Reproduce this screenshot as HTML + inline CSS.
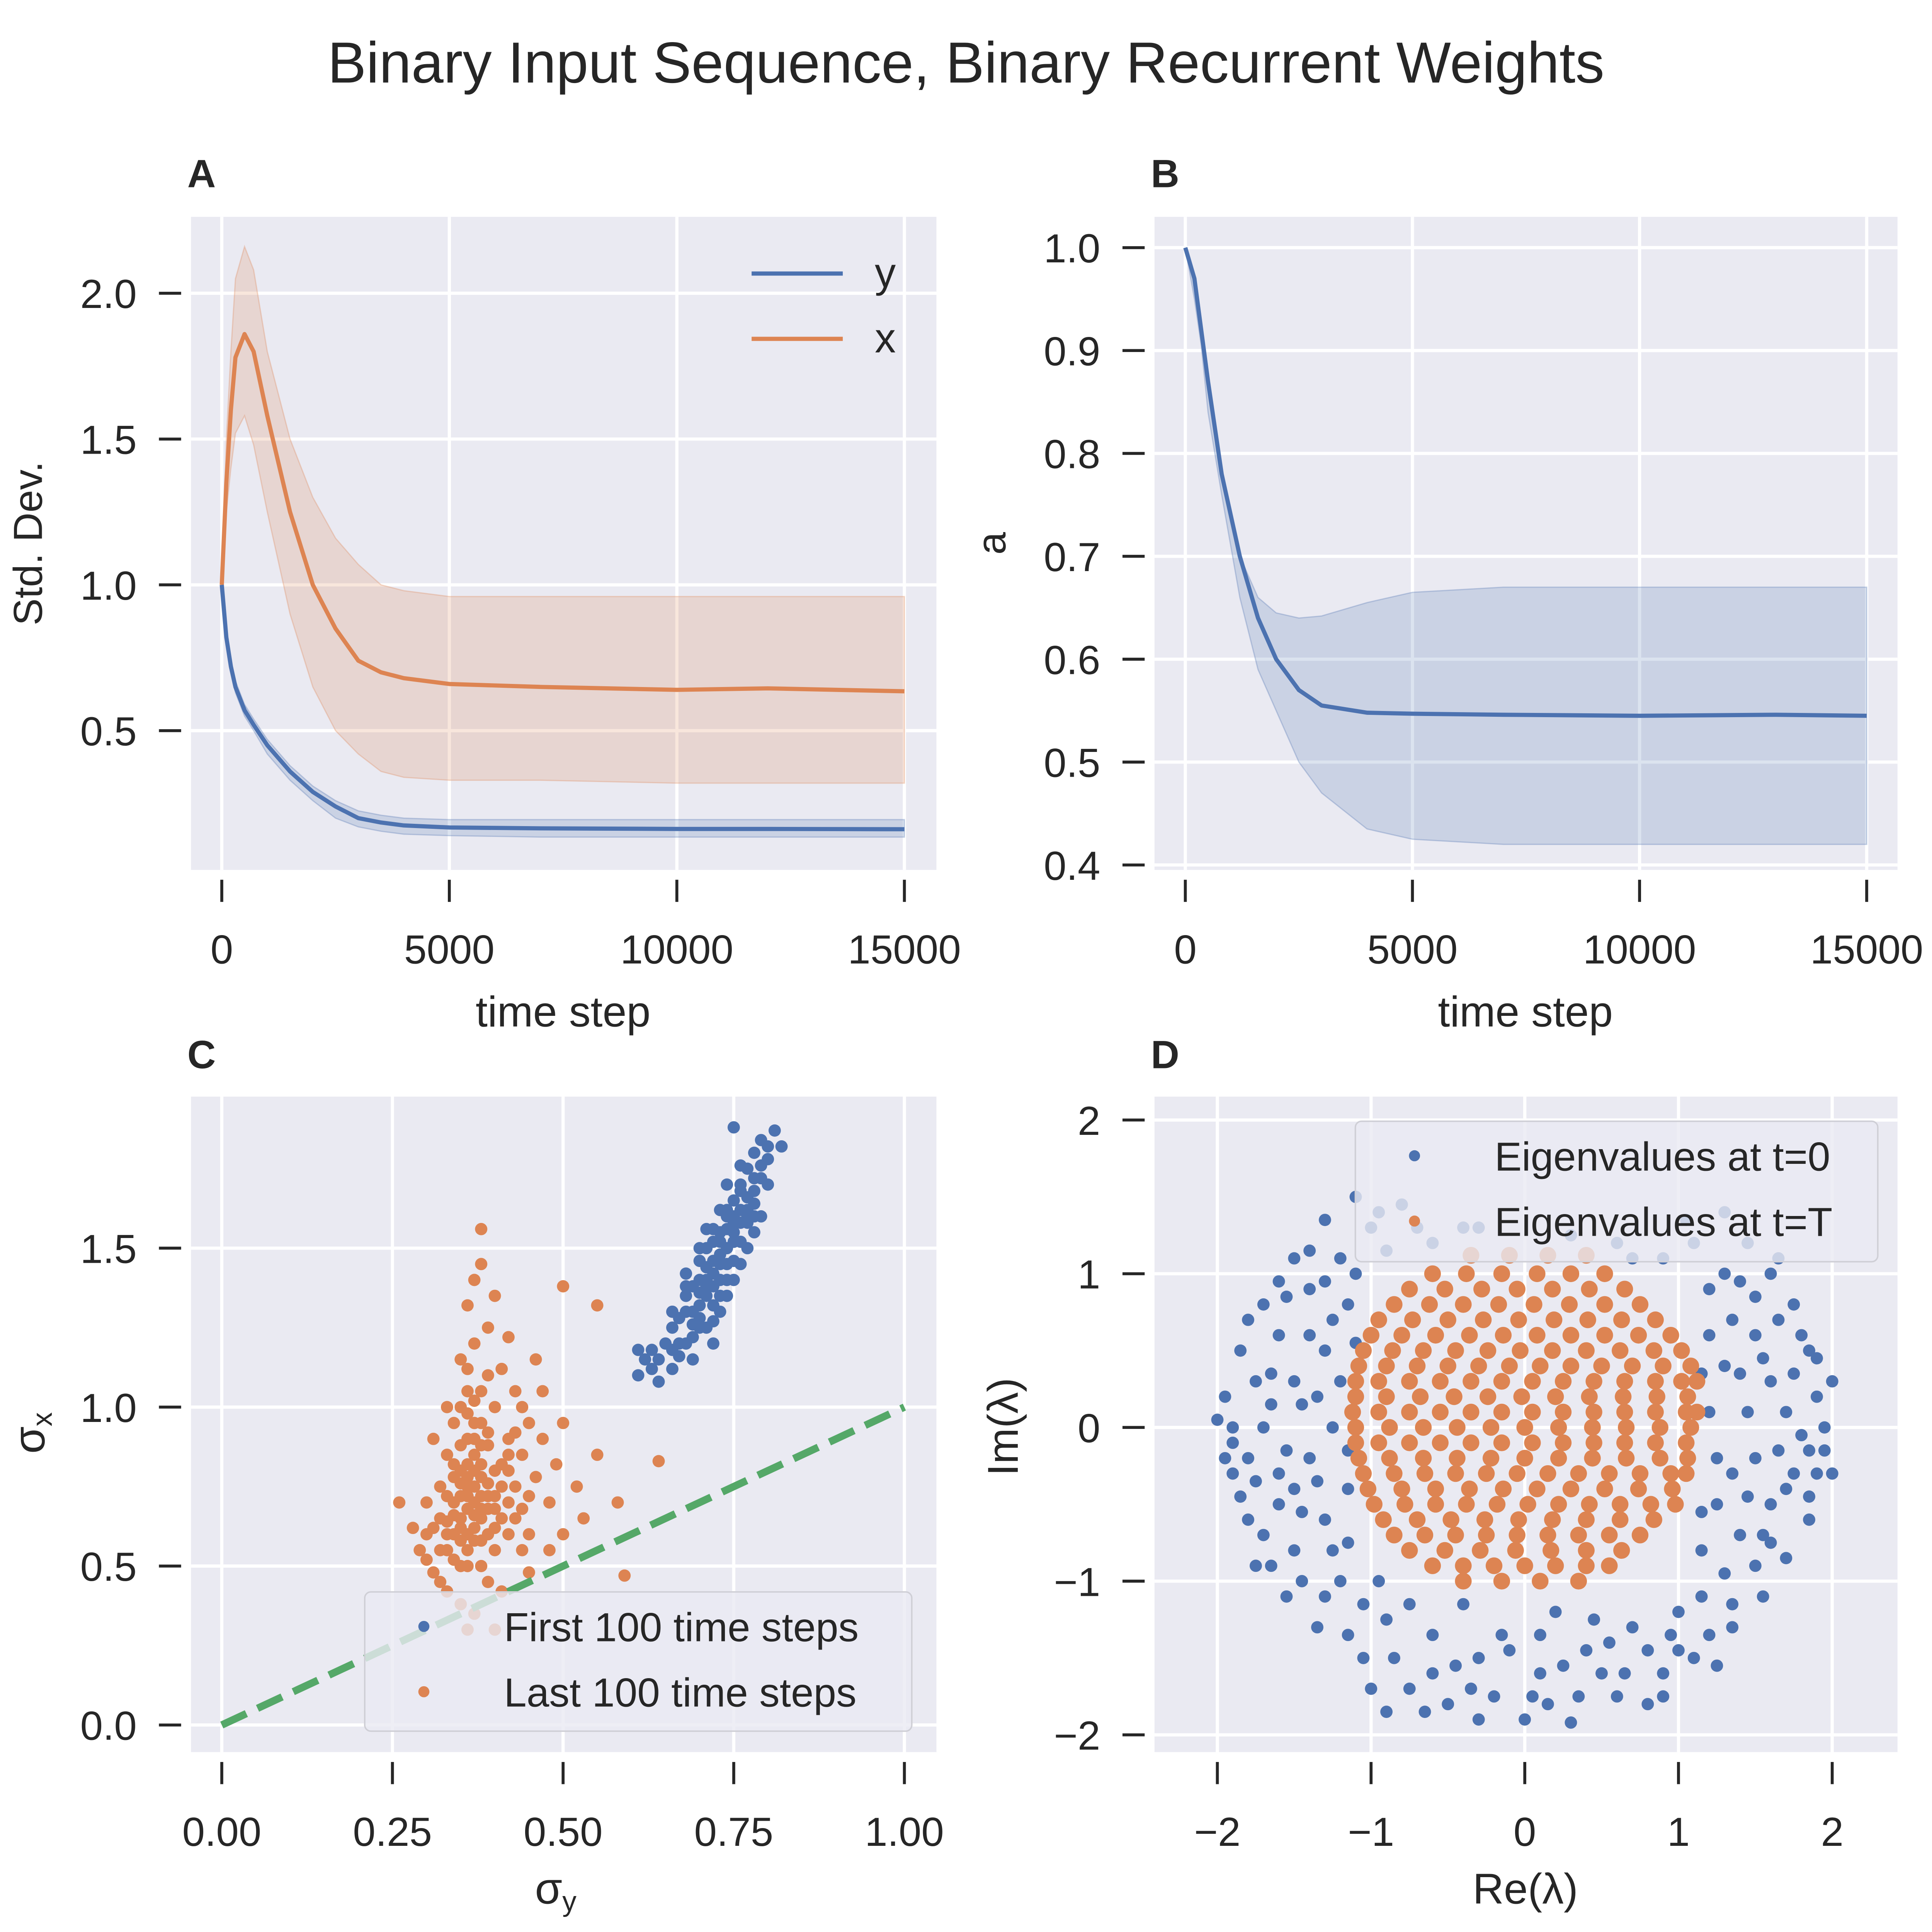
<!DOCTYPE html>
<html><head><meta charset="utf-8"><style>
html,body{margin:0;padding:0;background:#fff;overflow:hidden;}
svg{display:block;width:5000px;height:5000px;}
text{font-family:"Liberation Sans","DejaVu Sans",sans-serif;fill:#262626;}
</style></head><body>
<svg id="fig" xmlns="http://www.w3.org/2000/svg" width="5000" height="5000" viewBox="0 0 1568 1568" preserveAspectRatio="xMinYMin meet">
<text x="784" y="67" font-size="47" text-anchor="middle">Binary Input Sequence, Binary Recurrent Weights</text>
</svg>
<script>
// ---------- Panel A data ----------
const aT      = [0,100,200,300,500,700,1000,1500,2000,2500,3000,3500,4000,5000,7000,10000,12000,15000];
const aXMean  = [1.0,1.35,1.6,1.78,1.86,1.8,1.58,1.25,1.0,0.85,0.74,0.7,0.68,0.66,0.65,0.64,0.645,0.635];
const aXUpper = [1.0,1.5,1.8,2.05,2.16,2.08,1.8,1.5,1.3,1.16,1.07,1.0,0.98,0.96,0.96,0.96,0.96,0.96];
const aXLower = [1.0,1.25,1.4,1.52,1.58,1.48,1.25,0.9,0.65,0.5,0.42,0.36,0.34,0.33,0.33,0.32,0.32,0.32];
const aYMean  = [1.0,0.82,0.72,0.65,0.57,0.52,0.45,0.36,0.29,0.24,0.2,0.185,0.175,0.168,0.165,0.163,0.163,0.162];
const aYUpper = [1.0,0.84,0.74,0.67,0.59,0.54,0.47,0.38,0.31,0.26,0.225,0.21,0.2,0.195,0.195,0.195,0.195,0.195];
const aYLower = [1.0,0.8,0.7,0.63,0.55,0.5,0.42,0.33,0.26,0.2,0.17,0.155,0.145,0.14,0.135,0.135,0.135,0.135];
const aXTicks = [0,5000,10000,15000];
const aYTicks = [0.5,1.0,1.5,2.0];
// ---------- Panel B data ----------
const bT      = [0,200,500,800,1200,1600,2000,2500,3000,4000,5000,7000,10000,13000,15000];
const bMean   = [1.0,0.97,0.87,0.78,0.70,0.64,0.60,0.57,0.555,0.548,0.547,0.546,0.545,0.546,0.545];
const bUpper  = [1.0,0.95,0.86,0.78,0.70,0.66,0.645,0.64,0.642,0.655,0.665,0.67,0.67,0.67,0.67];
const bLower  = [1.0,0.97,0.84,0.76,0.66,0.59,0.55,0.50,0.47,0.435,0.425,0.42,0.42,0.42,0.42];
const bXTicks = [0,5000,10000,15000];
const bYTicks = [0.4,0.5,0.6,0.7,0.8,0.9,1.0];
// ---------- Panel C data ----------
const cFirst = [[0.62,1.15],[0.64,1.08],[0.66,1.12],[0.67,1.2],[0.66,1.25],[0.68,1.3],[0.69,1.22],[0.7,1.28],[0.71,1.35],[0.7,1.4],[0.69,1.38],[0.72,1.32],[0.72,1.42],[0.73,1.48],[0.71,1.5],[0.74,1.45],[0.73,1.55],[0.75,1.52],[0.74,1.6],[0.76,1.58],[0.75,1.65],[0.77,1.62],[0.76,1.7],[0.78,1.68],[0.77,1.75],[0.79,1.72],[0.8,1.78],[0.79,1.84],[0.75,1.88],[0.81,1.87],[0.82,1.82],[0.78,1.8],[0.73,1.62],[0.7,1.46],[0.68,1.35],[0.67,1.28],[0.65,1.2],[0.63,1.18],[0.61,1.18],[0.68,1.42],[0.71,1.56],[0.74,1.7],[0.76,1.76],[0.8,1.7],[0.79,1.6],[0.77,1.5],[0.75,1.4],[0.73,1.3],[0.71,1.25],[0.69,1.15],[0.72,1.2],[0.74,1.35],[0.76,1.45],[0.78,1.55],[0.72,1.52],[0.7,1.32],[0.66,1.18],[0.64,1.15],[0.73,1.4],[0.75,1.58],[0.77,1.66],[0.71,1.44],[0.72,1.38],[0.74,1.5],[0.76,1.62],[0.73,1.45],[0.75,1.55],[0.7,1.36],[0.69,1.3],[0.78,1.72],[0.77,1.58],[0.71,1.4],
 [0.7,1.25],[0.72,1.27],[0.74,1.4],[0.75,1.46],[0.73,1.52],[0.76,1.52],[0.77,1.6],[0.78,1.64],[0.74,1.56],[0.72,1.46],[0.71,1.38],[0.69,1.26],[0.68,1.2],[0.67,1.16],[0.73,1.35],[0.75,1.6],[0.76,1.68],[0.79,1.76],[0.8,1.82],[0.78,1.6],[0.74,1.62],[0.72,1.56],[0.7,1.5],[0.68,1.38],[0.66,1.3],[0.63,1.12],[0.61,1.1]];
const cLast = [[0.26,0.7],[0.29,0.55],[0.3,0.6],[0.31,0.48],[0.32,0.65],[0.32,0.75],[0.33,0.55],[0.33,0.85],[0.34,0.6],[0.34,0.7],[0.34,0.95],[0.35,0.5],[0.35,0.8],[0.35,0.65],[0.36,0.9],[0.36,0.55],[0.36,0.75],[0.36,1.05],[0.37,0.62],[0.37,0.85],[0.37,0.7],[0.37,1.2],[0.38,0.5],[0.38,0.78],[0.38,0.95],[0.38,1.45],[0.39,0.6],[0.39,0.88],[0.39,1.1],[0.4,0.72],[0.4,0.55],[0.4,1.0],[0.41,0.82],[0.41,0.65],[0.42,0.9],[0.42,0.6],[0.43,0.75],[0.43,1.05],[0.44,0.68],[0.44,0.85],[0.45,0.95],[0.45,0.6],[0.46,0.78],[0.47,0.9],[0.48,0.7],[0.49,0.82],[0.5,0.95],[0.52,0.75],[0.55,1.32],[0.5,1.38],[0.46,1.15],[0.42,1.22],[0.4,1.35],[0.37,1.4],[0.36,1.32],[0.38,1.56],[0.39,1.25],[0.35,1.15],[0.33,1.0],[0.31,0.9],[0.3,0.7],[0.28,0.62],[0.33,0.42],[0.35,0.38],[0.37,0.35],[0.39,0.45],[0.41,0.42],[0.36,0.3],[0.4,0.3],[0.45,0.48],[0.48,0.55],[0.53,0.65],[0.55,0.85],[0.59,0.47],[0.64,0.83],[0.58,0.7],[0.47,1.05],[0.44,1.0],[0.41,1.12],[0.34,0.82],[0.37,0.58],[0.39,0.68],[0.36,0.68],[0.38,0.72],[0.35,0.72],[0.4,0.8],[0.42,0.7],[0.33,0.72],[0.44,0.55],[0.5,0.6],[0.35,0.88],[0.37,0.95],[0.36,0.6],[0.38,0.65],[0.34,0.78],[0.39,0.76],[0.37,0.8],[0.36,0.82],[0.38,0.88],[0.35,0.58],[0.4,0.62],[0.33,0.64],[0.37,1.02],[0.36,1.12],[0.42,0.8],[0.43,0.92],
 [0.36,0.72],[0.37,0.75],[0.38,0.68],[0.35,0.62],[0.34,0.66],[0.36,0.78],[0.38,0.82],[0.39,0.72],[0.37,0.66],[0.35,0.76],[0.33,0.6],[0.32,0.55],[0.36,0.5],[0.38,0.58],[0.4,0.68],[0.41,0.75],[0.39,0.92],[0.37,0.9],[0.36,0.98],[0.38,1.05],[0.35,1.0],[0.42,0.85],[0.43,0.65],[0.45,0.72],[0.34,0.52],[0.31,0.62],[0.3,0.52],[0.32,0.45]];
const cXTicks = [0.00,0.25,0.50,0.75,1.00];
const cYTicks = [0.0,0.5,1.0,1.5];
// ---------- Panel D data ----------
const dInit = [[-1.9,0],[-1.95,0.2],[-1.9,-0.3],[-1.85,0.5],[-1.8,-0.6],[-1.7,0.8],[-1.65,-0.9],[-1.5,1.1],[-1.55,-1.1],[-1.3,1.35],[-1.35,-1.3],[-1.1,1.5],[-1.05,-1.5],[-0.8,1.45],[-0.75,-1.7],[-0.5,-1.8],[-0.3,-1.9],[0,-1.9],[0.3,-1.92],[0.6,-1.75],[0.9,-1.6],[1.1,-1.5],[1.35,-1.3],[1.55,-1.1],[1.7,-0.85],[1.85,-0.6],[1.9,-0.3],[2.0,-0.3],[1.95,0],[2.0,0.3],[1.9,0.2],[1.85,0.5],[1.75,0.8],[1.6,1.0],[1.45,1.2],[1.3,1.0],[1.2,0.9],[1.5,0.6],[1.6,0.3],[1.5,-0.2],[1.6,-0.5],[1.4,-0.7],[1.3,-0.95],[1.25,-0.5],[1.45,0.1],[1.7,0.1],[1.75,-0.3],[1.3,0.4],[-1.3,0.5],[-1.5,0.3],[-1.4,-0.2],[-1.6,-0.3],[-1.3,-0.6],[-1.5,-0.8],[-1.2,-1.0],[-1.4,0.9],[-1.2,1.1],[-1.7,0.0],[-1.25,0.0],[-1.75,0.3],[-1.8,-0.2],[-1.3,-1.1],[-0.9,-1.25],[-0.6,-1.35],[-0.3,-1.5],[0.1,-1.6],[0.4,-1.45],[0.7,-1.3],[1.0,-1.2],[-0.6,-1.6],[0.5,-1.6],[-0.2,-1.75],[0.15,-1.8],[0.8,-1.45],[-1.0,-1.7],[1.0,-1.45],[-1.6,0.6],[-1.15,0.8],[-1.0,1.3],[-1.6,-0.5],[1.65,0.7],[1.1,1.2],[1.3,1.4],[0.9,1.1],[1.5,-0.9],[1.2,-1.35],[1.8,-0.05],[-1.9,-0.1],[-2.0,0.05],[-1.45,-1.0],[-1.15,-0.4],[-1.2,0.3],[1.2,0.1],[1.25,-0.2],[-0.4,-1.15],[0.2,-1.2],[-0.7,1.3],[-1.8,0.7],[1.8,0.6],[-0.9,-1.85],[0.8,-1.8],[-1.1,1.0],[-0.9,1.15],[-0.6,1.2],[-0.4,1.3],[0.6,1.2],[0.3,1.25],[-1.4,0.6],[-1.55,-0.15],[-1.45,0.15],[1.35,0.7],[1.55,-0.7],[-1.15,-0.75],[-0.95,-1.0],[0.45,-1.25],[-0.15,-1.35],[1.15,-0.8],[1.4,0.95],[-1.7,-0.7],[1.7,-0.4],
 [-1.85,-0.45],[-1.75,-0.9],[-1.65,0.35],[-1.55,0.85],[-1.45,-0.55],[-1.35,0.2],[-1.35,-0.35],[-1.25,0.7],[-1.25,-0.8],[-1.05,-1.15],[-0.85,-1.5],[-0.65,-1.85],[-0.45,-1.55],[-0.1,-1.45],[0.05,-1.75],[0.25,-1.55],[0.55,-1.4],[0.65,-1.6],[0.95,-1.35],[1.15,-1.1],[1.35,-1.15],[1.45,-0.45],[1.55,0.45],[1.65,-0.15],[1.75,0.35],[1.85,-0.15],[1.9,0.45],[1.4,0.35],[1.35,-0.3],[1.2,0.6],[1.5,0.85],[1.6,-0.75],[1.85,-0.45],[-1.95,-0.2],[-1.65,0.15],[-1.5,-0.4],[-1.4,1.15],[-1.6,0.95],[-0.95,1.4],[-1.3,0.95],[1.05,1.35],[0.7,1.1],[-0.3,1.3],[0.1,-1.35],[-0.75,-1.15],[0.35,-1.75],[-0.35,-1.7],[0.9,-1.75],[1.25,-1.55],[-1.15,-1.35],[-1.75,-0.35],[1.95,-0.15],[1.65,1.1],[-1.1,0.55],[-1.15,-0.15],[1.15,-0.55],[1.15,0.35]];
const dFinalRows = [
 [1.12,[-0.35,-0.1,0.15,0.4]],
 [1.0,[-0.6,-0.38,-0.15,0.08,0.3,0.52]],
 [0.9,[-0.75,-0.52,-0.28,-0.05,0.18,0.42,0.65]],
 [0.8,[-0.85,-0.62,-0.4,-0.17,0.06,0.29,0.52,0.75]],
 [0.7,[-0.95,-0.73,-0.5,-0.27,-0.04,0.19,0.41,0.63,0.85]],
 [0.6,[-1.0,-0.8,-0.58,-0.36,-0.14,0.08,0.3,0.52,0.74,0.95]],
 [0.5,[-1.05,-0.86,-0.66,-0.45,-0.24,-0.03,0.18,0.4,0.62,0.84,1.02]],
 [0.4,[-1.08,-0.9,-0.7,-0.5,-0.3,-0.1,0.1,0.3,0.5,0.7,0.9,1.08]],
 [0.3,[-1.1,-0.95,-0.75,-0.55,-0.35,-0.15,0.05,0.25,0.45,0.65,0.85,1.02,1.12]],
 [0.2,[-1.1,-0.9,-0.68,-0.46,-0.24,-0.02,0.2,0.42,0.64,0.86,1.06]],
 [0.1,[-1.12,-0.95,-0.75,-0.55,-0.35,-0.15,0.05,0.25,0.45,0.65,0.85,1.05,1.12]],
 [0.0,[-1.1,-0.88,-0.66,-0.44,-0.22,0.0,0.22,0.44,0.66,0.88,1.08]],
 [-0.1,[-1.1,-0.95,-0.75,-0.55,-0.35,-0.15,0.05,0.25,0.45,0.65,0.85,1.05]],
 [-0.2,[-1.08,-0.88,-0.66,-0.44,-0.22,0.0,0.22,0.44,0.66,0.88,1.06]],
 [-0.3,[-1.05,-0.85,-0.65,-0.45,-0.25,-0.05,0.15,0.35,0.55,0.75,0.95,1.05]],
 [-0.4,[-1.02,-0.8,-0.58,-0.36,-0.14,0.08,0.3,0.52,0.74,0.96]],
 [-0.5,[-0.98,-0.78,-0.58,-0.38,-0.18,0.02,0.22,0.42,0.62,0.82,0.98]],
 [-0.6,[-0.92,-0.7,-0.48,-0.26,-0.04,0.18,0.4,0.62,0.84]],
 [-0.7,[-0.85,-0.65,-0.45,-0.25,-0.05,0.15,0.35,0.55,0.75]],
 [-0.8,[-0.75,-0.52,-0.29,-0.06,0.17,0.4,0.63]],
 [-0.9,[-0.6,-0.4,-0.2,0.0,0.2,0.4,0.55]],
 [-1.0,[-0.4,-0.15,0.1,0.35]]
];
const dTicks = [-2,-1,0,1,2];

const NS="http://www.w3.org/2000/svg";
const svg=document.getElementById('fig');
function mk(tag,attrs,parent,txt){const e=document.createElementNS(NS,tag);for(const k in attrs)e.setAttribute(k,attrs[k]);if(txt!==undefined)e.textContent=txt;(parent||svg).appendChild(e);return e;}
function lin(d0,d1,r0,r1){return v=>r0+(v-d0)*(r1-r0)/(d1-d0);}
const BLUE='#4C72B0',ORANGE='#DD8452',GREEN='#55A868';

function panel(name,box,sx,sy,xt,yt,xfmt,yfmt){
  const g=mk('g',{});
  
  
  const bg=mk('rect',{x:box[0],y:box[1],width:box[2]-box[0],height:box[3]-box[1],fill:'#EAEAF2'},g);
  
  
  xt.forEach(v=>{const x=sx(v);
    const l=mk('line',{x1:x,x2:x,y1:box[1],y2:box[3],stroke:'#fff','stroke-width':2.6},g);
    
    
    mk('line',{x1:x,x2:x,y1:box[3]+8,y2:box[3]+26,stroke:'#262626','stroke-width':2.4},g);
    const t=mk('text',{x:x,y:box[3]+76,'font-size':33,'text-anchor':'middle'},g,xfmt(v));
    
    
  });
  yt.forEach(v=>{const y=sy(v);
    const l=mk('line',{x1:box[0],x2:box[2],y1:y,y2:y,stroke:'#fff','stroke-width':2.6},g);
    
    
    mk('line',{x1:box[0]-26,x2:box[0]-8,y1:y,y2:y,stroke:'#262626','stroke-width':2.4},g);
    const t=mk('text',{x:box[0]-44,y:y+12,'font-size':33,'text-anchor':'end'},g,yfmt(v));
    
    
  });
  return g;
}
function pathFrom(xs,ys,sx,sy){return xs.map((t,i)=>(i?'L':'M')+sx(t).toFixed(2)+' '+sy(ys[i]).toFixed(2)).join(' ');}
function band(g,xs,up,lo,sx,sy,color,op,name){
  let d=pathFrom(xs,up,sx,sy);
  for(let i=xs.length-1;i>=0;i--)d+=' L'+sx(xs[i]).toFixed(2)+' '+sy(lo[i]).toFixed(2);
  const p=mk('path',{d:d+'Z',fill:color,'fill-opacity':op,stroke:color,'stroke-opacity':0.3,'stroke-width':1},g);
  
  
}
function line(g,xs,ys,sx,sy,color,name){
  const p=mk('path',{d:pathFrom(xs,ys,sx,sy),fill:'none',stroke:color,'stroke-width':3.4,'stroke-linejoin':'round'},g);
  
  
}
function label(txt,x,y,rot,size,name,anchor){
  const t=mk('text',{x:x,y:y,'font-size':size||33,'text-anchor':anchor||'middle',transform:rot?`rotate(-90 ${x} ${y})`:''},svg,txt);
  
  
  return t;
}
function letter(txt,x,y){const t=mk('text',{x:x,y:y,'font-size':32,'font-weight':'bold'},svg,txt);
  
  }
function dot(g,x,y,c,r,name){const e=mk('circle',{cx:x,cy:y,r:r,fill:c},g);
  
  }

// ---- Panel A ----
{
 const box=[155,176,760,706];
 const sx=lin(0,15000,180,734), sy=lin(0.5,2.0,593,238);
 const g=panel('panel-a',box,sx,sy,aXTicks,aYTicks,v=>String(v),v=>v.toFixed(1));
 band(g,aT,aXUpper,aXLower,sx,sy,ORANGE,0.2,'x-std-band');
 band(g,aT,aYUpper,aYLower,sx,sy,BLUE,0.2,'y-std-band');
 line(g,aT,aXMean,sx,sy,ORANGE,'x-std-line');
 line(g,aT,aYMean,sx,sy,BLUE,'y-std-line');
 const lg=mk('g',{},g);
 
 
 mk('line',{x1:610,x2:684,y1:222,y2:222,stroke:BLUE,'stroke-width':3.4},lg);
 mk('line',{x1:610,x2:684,y1:275,y2:275,stroke:ORANGE,'stroke-width':3.4},lg);
 mk('text',{x:710,y:233,'font-size':34},lg,'y');
 mk('text',{x:710,y:286,'font-size':34},lg,'x');
 letter('A',152,152);
 label('time step',457,833,false,35,'x-axis-title-a');
 label('Std. Dev.',34,441,true,33,'y-axis-title-a');
}
// ---- Panel B ----
{
 const box=[937,176,1540,706];
 const sx=lin(0,15000,962,1515), sy=lin(0.4,1.0,702,201);
 const g=panel('panel-b',box,sx,sy,bXTicks,bYTicks,v=>String(v),v=>v.toFixed(1));
 band(g,bT,bUpper,bLower,sx,sy,BLUE,0.2,'a-std-band');
 line(g,bT,bMean,sx,sy,BLUE,'a-mean-line');
 letter('B',934,152);
 label('time step',1238,833,false,35,'x-axis-title-b');
 label('a',816,441,true,33,'y-axis-title-b');
}
// ---- Panel C ----
{
 const box=[155,890,760,1422];
 const sx=lin(0,1,180,734), sy=lin(0,1.5,1400,1013);
 const g=panel('panel-c',box,sx,sy,cXTicks,cYTicks,v=>v.toFixed(2),v=>v.toFixed(1));
 cLast.forEach(p=>dot(g,sx(p[0]),sy(p[1]),ORANGE,5,'last-100-point'));
 cFirst.forEach(p=>dot(g,sx(p[0]),sy(p[1]),BLUE,5,'first-100-point'));
 const dl=mk('line',{x1:sx(0),y1:sy(0),x2:sx(1),y2:sy(1),stroke:GREEN,'stroke-width':6,'stroke-dasharray':'22 10'},g);
 
 
 const lg=mk('g',{},g);
 
 
 mk('rect',{x:296,y:1292,width:444,height:113,rx:5,fill:'#EAEAF2','fill-opacity':0.8,stroke:'#cfcfd6','stroke-width':1.2},lg);
 mk('circle',{cx:344,cy:1320,r:4.5,fill:BLUE},lg);
 mk('circle',{cx:344,cy:1373,r:4.5,fill:ORANGE},lg);
 mk('text',{x:409,y:1332,'font-size':33},lg,'First 100 time steps');
 mk('text',{x:409,y:1385,'font-size':33},lg,'Last 100 time steps');
 letter('C',152,867);
 const xt=label('σ',451,1545,false,36,'x-axis-title-c');
 mk('tspan',{'font-size':23,dy:6},xt,'y');
 const yt=label('σ',36,1163,true,36,'y-axis-title-c');
 mk('tspan',{'font-size':23,dy:6},yt,'x');
}
// ---- Panel D ----
{
 const box=[937,890,1540,1422];
 const sx=lin(-2,2,988,1487), sy=lin(-2,2,1408,909);
 const g=panel('panel-d',box,sx,sy,dTicks,dTicks,v=>v<0?'−'+Math.abs(v):String(v),v=>v<0?'−'+Math.abs(v):String(v));
 dInit.forEach(p=>dot(g,sx(p[0]),sy(p[1]),BLUE,5,'eigenvalue-t0'));
 dFinalRows.forEach(r=>r[1].forEach(x=>dot(g,sx(x),sy(r[0]),ORANGE,6.8,'eigenvalue-tT')));
 const lg=mk('g',{},g);
 
 
 mk('rect',{x:1100,y:910,width:424,height:114,rx:5,fill:'#EAEAF2','fill-opacity':0.8,stroke:'#cfcfd6','stroke-width':1.2},lg);
 mk('circle',{cx:1148,cy:938,r:4.5,fill:BLUE},lg);
 mk('circle',{cx:1148,cy:991,r:4.5,fill:ORANGE},lg);
 mk('text',{x:1213,y:950,'font-size':33},lg,'Eigenvalues at t=0');
 mk('text',{x:1213,y:1003,'font-size':33},lg,'Eigenvalues at t=T');
 letter('D',934,867);
 label('Re(λ)',1238,1545,false,35,'x-axis-title-d');
 label('Im(λ)',826,1158,true,35,'y-axis-title-d');
}
</script>
</body></html>
